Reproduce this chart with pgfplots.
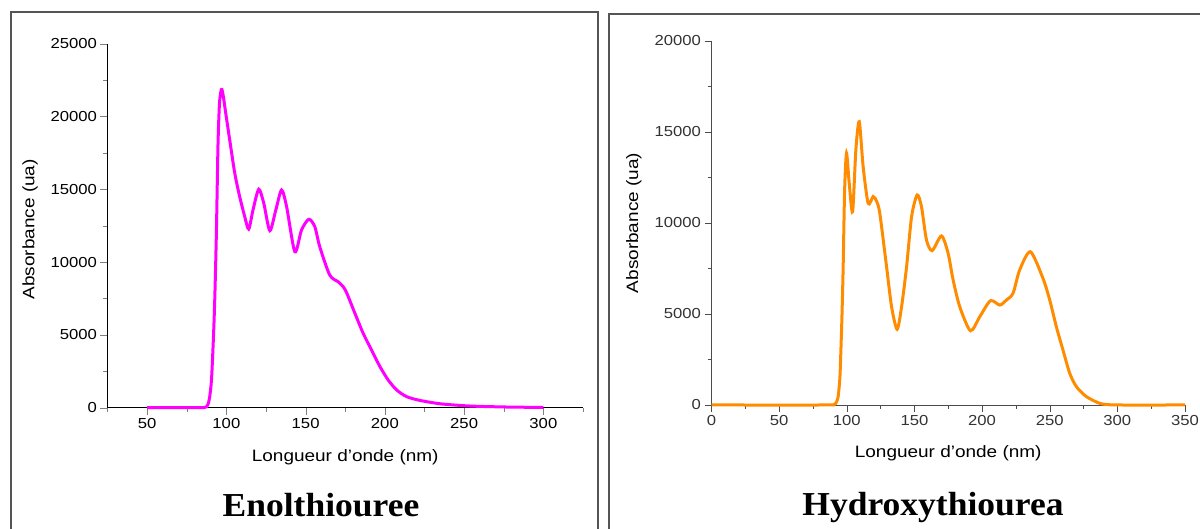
\documentclass[border=0pt]{standalone}
\usepackage{fontspec}
\setmainfont{Liberation Sans}[FakeStretch=1.15]
\newfontfamily\titlefont{Liberation Serif}[FakeStretch=1.06]
\usepackage{pgfplots}
\pgfplotsset{compat=1.18}
\definecolor{mag}{RGB}{255,0,255}
\definecolor{org}{RGB}{255,140,0}
\definecolor{framegray}{RGB}{85,85,85}
\pgfplotsset{
  myaxis/.style={
    scale only axis, anchor=south west, clip=false,
    axis x line*=bottom, axis y line*=left,
    axis line style={-},
    tick align=outside,
    major tick length=7pt, minor tick length=4pt,
    scaled ticks=false,
    /pgf/number format/.cd, 1000 sep={}, assume math mode=true, /pgfplots/.cd,
    tick label style={font=\fontsize{14.5}{17}\selectfont},
    label style={font=\fontsize{16.5}{20}\selectfont},
    xlabel={Longueur d'onde (nm)},
    ylabel={Absorbance (ua)},
  }
}
\begin{document}
\begin{tikzpicture}
\useasboundingbox (0pt,0pt) rectangle (1200pt,529pt);
\draw[framegray, line width=1.4pt] (11pt,0pt) -- (11pt,517pt) -- (598pt,517pt) -- (598pt,0pt);
\draw[framegray, line width=1.4pt] (609pt,0pt) -- (609pt,515pt) -- (1200pt,515pt);

\begin{axis}[myaxis,
  at={(107.5pt,121.3pt)}, width=475.5pt, height=364pt,
  xmin=25, xmax=325, ymin=0, ymax=25000,
  xtick={50,100,...,300}, minor xtick={25,75,...,325},
  ytick={0,5000,...,25000}, minor ytick={2500,7500,...,22500},
  xlabel style={at={(axis description cs:0.5,-0.135)}, anchor=center},
  ylabel style={at={(axis description cs:-0.163,0.49)}, anchor=center},
]
\addplot[mag, line width=3pt, smooth, tension=0.45] coordinates {
(50,0) (80,0) (86,10) (87.5,60) (88.5,250) (89.5,760) (90.6,1900) (91.6,4190) (92.6,7170)
(93.7,12000) (94.7,18000) (95.6,20800) (96.5,21700) (97.2,21850) (98.2,21300)
(99.5,20300) (101,19200) (102.5,18100) (105.3,16100) (108.4,14490) (111.6,13120) (114.1,12270)
(116.8,13580) (120.4,15000) (123.6,14040) (127.4,12160) (131.2,13580) (134.8,14950)
(138,13810) (143.2,10710) (147.4,12200) (152,12940) (155.8,12430) (158.9,11060)
(165.2,9110) (170.5,8650) (173.7,8310) (176,7860) (181.1,6480) (186.3,5110)
(191.6,3960) (196.9,2820) (202.1,1900) (207.4,1220) (213.7,760) (222.1,500)
(234.8,270) (249.5,140) (260,90) (280,40) (300,20)
};
\end{axis}

\begin{axis}[myaxis,
  at={(711.5pt,124pt)}, width=473.5pt, height=364pt,
  xmin=0, xmax=350, ymin=0, ymax=20000,
  xtick={0,50,...,350}, minor xtick={25,75,...,325},
  ytick={0,5000,...,20000}, minor ytick={2500,7500,...,17500},
  axis line style={black!70},
  every tick/.style={black!70},
  tick label style={text=black!80},
  xlabel style={at={(axis description cs:0.5,-0.132)}, anchor=center},
  ylabel style={at={(axis description cs:-0.164,0.5)}, anchor=center},
]
\addplot[org, line width=3pt, smooth, tension=0.45] coordinates {
(0,0) (85,0) (90,10) (91.5,60) (92.7,220) (93.7,500) (94.9,1500) (95.6,2900) (96.4,4800) (97.3,7500)
(98.4,11800) (99.8,13830) (101.8,12180) (104.3,10620) (106.7,14010) (109.2,15570)
(112.1,13090) (115.8,11080) (119.5,11450) (122,11200) (124.4,10530) (129.4,7600)
(133.1,5400) (137.2,4160) (140.5,5400) (144.2,7600) (147.9,10350) (152,11540)
(155.2,10900) (158.9,9070) (163.1,8480) (170,9290) (174.9,8330) (178.6,6870)
(183.5,5400) (191.4,4080) (198.3,4850) (206.2,5730) (213.1,5490) (218,5770)
(222.9,6140) (227.8,7420) (235.7,8420) (245,6960) (250,5770) (254.9,4300)
(259.8,3020) (264.8,1740) (269.7,1010) (277.1,460) (287,90) (295,10) (300,0) (350,0)
};
\end{axis}

\node[anchor=base, font=\titlefont\bfseries\fontsize{33.5}{40}\selectfont] at (321pt,12pt) {Enolthiouree};
\node[anchor=base, font=\titlefont\bfseries\fontsize{33.5}{40}\selectfont] at (933pt,13pt) {Hydroxythiourea};
\end{tikzpicture}
\end{document}
